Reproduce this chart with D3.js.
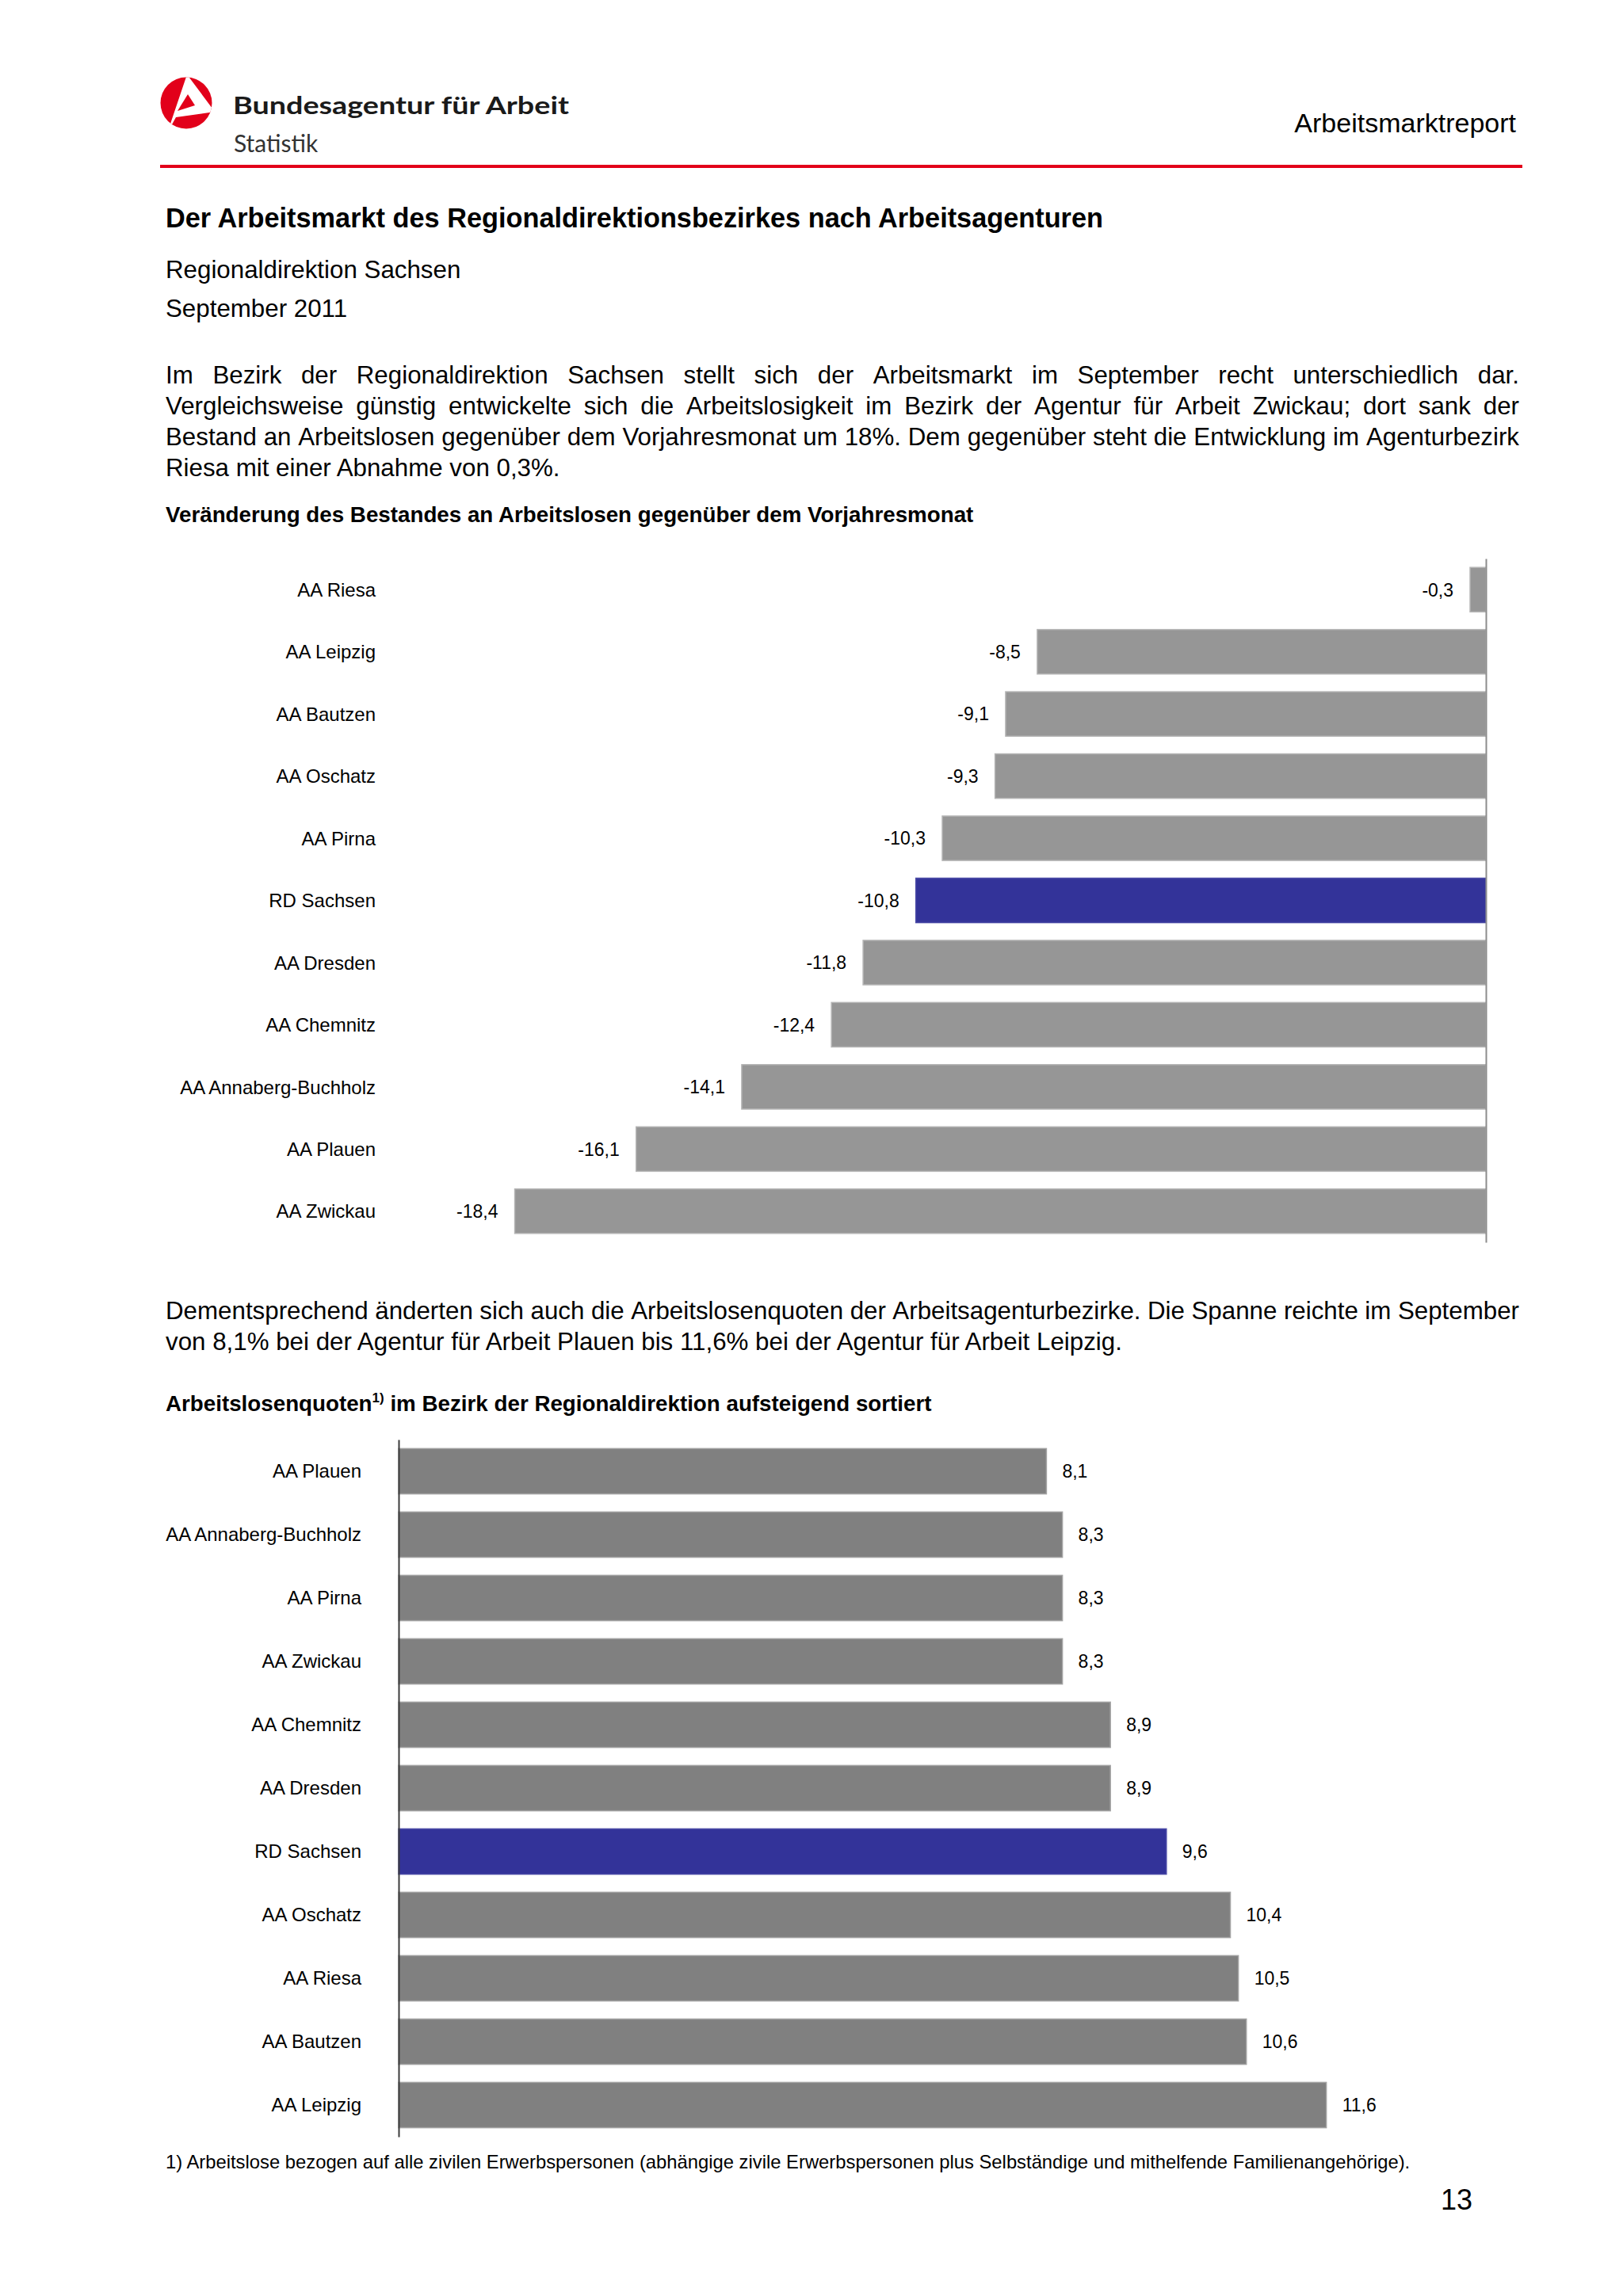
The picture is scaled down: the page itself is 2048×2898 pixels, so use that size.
<!DOCTYPE html>
<meta charset='utf-8'>
<title>Arbeitsmarktreport - Regionaldirektion Sachsen</title>
<style>
  body { margin: 0; background: #fff; }
  svg text { font-family: 'Liberation Sans', Arial, sans-serif; fill: #000; }
  .bar1 { fill: #969696; stroke: #b4b4b4; stroke-width: 1.5px; }
  .bar2 { fill: #808080; stroke: #a2a2a2; stroke-width: 1.5px; }
  .hl { fill: #333399; stroke: #4a4aa6; stroke-width: 1.5px; }
  .axis1 path { stroke: #8c8c8c; stroke-width: 2px; }
  .axis2 path { stroke: #3c3c3c; stroke-width: 2px; }
  .axis2 text { font-family: 'Liberation Sans', Arial, sans-serif; font-size: 24px; fill: #000; }
</style>
<body>
<script src='https://d3js.org/d3.v7.min.js'></script>
<script>
// Veraenderung des Bestandes an Arbeitslosen (in %)
var changeNames = ['AA Riesa', 'AA Leipzig', 'AA Bautzen', 'AA Oschatz', 'AA Pirna', 'RD Sachsen',
                   'AA Dresden', 'AA Chemnitz', 'AA Annaberg-Buchholz', 'AA Plauen', 'AA Zwickau'];
var changeValues = [-0.3, -8.5, -9.1, -9.3, -10.3, -10.8, -11.8, -12.4, -14.1, -16.1, -18.4];

// Arbeitslosenquoten (in %)
var rateNames = ['AA Plauen', 'AA Annaberg-Buchholz', 'AA Pirna', 'AA Zwickau', 'AA Chemnitz', 'AA Dresden',
                 'RD Sachsen', 'AA Oschatz', 'AA Riesa', 'AA Bautzen', 'AA Leipzig'];
var rateValues = [8.1, 8.3, 8.3, 8.3, 8.9, 8.9, 9.6, 10.4, 10.5, 10.6, 11.6];

var highlight = 'RD Sachsen';

var para1 = [
  'Im Bezirk der Regionaldirektion Sachsen stellt sich der Arbeitsmarkt im September recht unterschiedlich dar.',
  'Vergleichsweise günstig entwickelte sich die Arbeitslosigkeit im Bezirk der Agentur für Arbeit Zwickau; dort sank der',
  'Bestand an Arbeitslosen gegenüber dem Vorjahresmonat um 18%. Dem gegenüber steht die Entwicklung im Agenturbezirk',
  'Riesa mit einer Abnahme von 0,3%.'
];
var para2 = [
  'Dementsprechend änderten sich auch die Arbeitslosenquoten der Arbeitsagenturbezirke. Die Spanne reichte im September',
  'von 8,1% bei der Agentur für Arbeit Plauen bis 11,6% bei der Agentur für Arbeit Leipzig.'
];

var de = d3.formatLocale({decimal: ',', thousands: '.', grouping: [3], currency: ['', ' €'], minus: '-'});
var fmt = de.format('.1f');

var W = 2048, H = 2898;
var left = 209, right = 1917;
var bodySize = '31.3px';

var svg = d3.select('body').append('svg')
    .attr('width', W)
    .attr('height', H);

svg.append('rect').attr('width', W).attr('height', H).attr('fill', '#fff');

// ---- header ----
var logo = svg.append('g').attr('transform', 'translate(235,130)');
logo.append('clipPath').attr('id', 'logoclip')
  .append('circle').attr('r', 32.5);
logo.append('circle').attr('r', 32.5).attr('fill', '#e2001a');
logo.append('path')
  .attr('clip-path', 'url(#logoclip)')
  .attr('d', 'M1,-36 L-24,38 L-13,18 L36,11 Z')
  .attr('fill', '#fff');
logo.append('path')
  .attr('d', 'M2,-11 L-11,10 L11,3 Z')
  .attr('fill', '#e2001a');

svg.append('text')
  .attr('x', 294).attr('y', 144)
  .style('font-family', 'Lato, "Open Sans", sans-serif')
  .style('font-weight', 'bold')
  .style('font-size', '31px')
  .style('fill', '#1a1a1a')
  .attr('textLength', 424)
  .attr('lengthAdjust', 'spacingAndGlyphs')
  .text('Bundesagentur für Arbeit');

svg.append('text')
  .attr('x', 295).attr('y', 192)
  .style('font-family', 'Lato, "Open Sans", sans-serif')
  .style('font-size', '30px')
  .style('fill', '#333')
  .text('Statistik');

svg.append('text')
  .attr('x', 1913).attr('y', 167)
  .attr('text-anchor', 'end')
  .style('font-size', '34px')
  .text('Arbeitsmarktreport');

svg.append('line')
  .attr('x1', 202).attr('x2', 1921)
  .attr('y1', 210).attr('y2', 210)
  .attr('stroke', '#e2001a')
  .attr('stroke-width', 4);

// ---- text blocks ----
svg.append('text')
  .attr('x', left).attr('y', 287)
  .style('font-size', '34.3px').style('font-weight', 'bold')
  .text('Der Arbeitsmarkt des Regionaldirektionsbezirkes nach Arbeitsagenturen');

svg.append('text')
  .attr('x', left).attr('y', 351)
  .style('font-size', bodySize)
  .text('Regionaldirektion Sachsen');

svg.append('text')
  .attr('x', left).attr('y', 400)
  .style('font-size', bodySize)
  .text('September 2011');

// place words of a line so that it fills the text width
function textLine(g, str, y, justify) {
  if (!justify) {
    g.append('text').attr('x', left).attr('y', y).style('font-size', bodySize).text(str);
    return;
  }
  var words = str.split(' ');
  var nodes = words.map(function(w) {
    return g.append('text').attr('y', y).style('font-size', bodySize).text(w);
  });
  var widths = nodes.map(function(n) { return n.node().getComputedTextLength(); });
  var gap = (right - left - d3.sum(widths)) / (words.length - 1);
  var xpos = left;
  nodes.forEach(function(n, i) {
    n.attr('x', xpos);
    xpos += widths[i] + gap;
  });
}

var p1 = svg.append('g');
[484, 523, 562, 601].forEach(function(y, i) {
  textLine(p1, para1[i], y, i < para1.length - 1);
});

var p2 = svg.append('g');
[1665, 1704].forEach(function(y, i) {
  textLine(p2, para2[i], y, i < para2.length - 1);
});

svg.append('text')
  .attr('x', left).attr('y', 659)
  .style('font-size', '27.75px').style('font-weight', 'bold')
  .text('Veränderung des Bestandes an Arbeitslosen gegenüber dem Vorjahresmonat');

var sub2 = svg.append('text')
  .attr('x', left).attr('y', 1781)
  .style('font-size', '27.75px').style('font-weight', 'bold');
sub2.append('tspan').text('Arbeitslosenquoten');
sub2.append('tspan').attr('dy', -11).style('font-size', '17px').text('1)');
sub2.append('tspan').attr('dy', 11).text(' im Bezirk der Regionaldirektion aufsteigend sortiert');

// ---- chart 1: change vs. previous year ----
var y1 = d3.scaleBand()
  .domain(changeNames)
  .range([705, 1568])
  .paddingInner(0.285)
  .paddingOuter(0.1425);
var x1 = d3.scaleLinear().domain([-20, 0]).range([543, 1875]);

var c1 = svg.append('g');
c1.selectAll('rect')
  .data(changeNames)
  .enter().append('rect')
  .attr('class', function(d) { return d === highlight ? 'hl' : 'bar1'; })
  .attr('x', function(d, i) { return x1(changeValues[i]); })
  .attr('width', function(d, i) { return x1(0) - x1(changeValues[i]); })
  .attr('y', function(d) { return y1(d); })
  .attr('height', y1.bandwidth());

c1.selectAll('.val')
  .data(changeNames)
  .enter().append('text')
  .attr('class', 'val')
  .attr('x', function(d, i) { return x1(changeValues[i]) - 21; })
  .attr('y', function(d) { return y1(d) + y1.bandwidth() / 2; })
  .attr('dy', '0.36em')
  .attr('text-anchor', 'end')
  .style('font-size', '23px')
  .text(function(d, i) { return fmt(changeValues[i]); });

c1.selectAll('.cat')
  .data(changeNames)
  .enter().append('text')
  .attr('class', 'cat')
  .attr('x', 474)
  .attr('y', function(d) { return y1(d) + y1.bandwidth() / 2; })
  .attr('dy', '0.36em')
  .attr('text-anchor', 'end')
  .style('font-size', '24px')
  .text(function(d) { return d; });

c1.append('g')
  .attr('class', 'axis1')
  .attr('transform', 'translate(' + x1(0) + ',0)')
  .call(d3.axisLeft(y1).tickSize(0).tickFormat(''));

// ---- chart 2: unemployment rates ----
var y2 = d3.scaleBand()
  .domain(rateNames)
  .range([1817, 2697])
  .paddingInner(0.285)
  .paddingOuter(0.1425);
var x2 = d3.scaleLinear().domain([0, 12]).range([503, 1714]);

var c2 = svg.append('g');
c2.selectAll('rect')
  .data(rateNames)
  .enter().append('rect')
  .attr('class', function(d) { return d === highlight ? 'hl' : 'bar2'; })
  .attr('x', x2(0))
  .attr('width', function(d, i) { return x2(rateValues[i]) - x2(0); })
  .attr('y', function(d) { return y2(d); })
  .attr('height', y2.bandwidth());

c2.selectAll('.val')
  .data(rateNames)
  .enter().append('text')
  .attr('class', 'val')
  .attr('x', function(d, i) { return x2(rateValues[i]) + 20; })
  .attr('y', function(d) { return y2(d) + y2.bandwidth() / 2; })
  .attr('dy', '0.36em')
  .style('font-size', '23px')
  .text(function(d, i) { return fmt(rateValues[i]); });

c2.append('g')
  .attr('class', 'axis2')
  .attr('transform', 'translate(' + x2(0) + ',0)')
  .call(d3.axisLeft(y2).tickSize(0).tickPadding(47));

// ---- footer ----
svg.append('text')
  .attr('x', left).attr('y', 2737)
  .style('font-size', '23.8px')
  .text('1) Arbeitslose bezogen auf alle zivilen Erwerbspersonen (abhängige zivile Erwerbspersonen plus Selbständige und mithelfende Familienangehörige).');

svg.append('text')
  .attr('x', 1858).attr('y', 2789)
  .attr('text-anchor', 'end')
  .style('font-size', '36px')
  .text('13');
</script>
</body>
